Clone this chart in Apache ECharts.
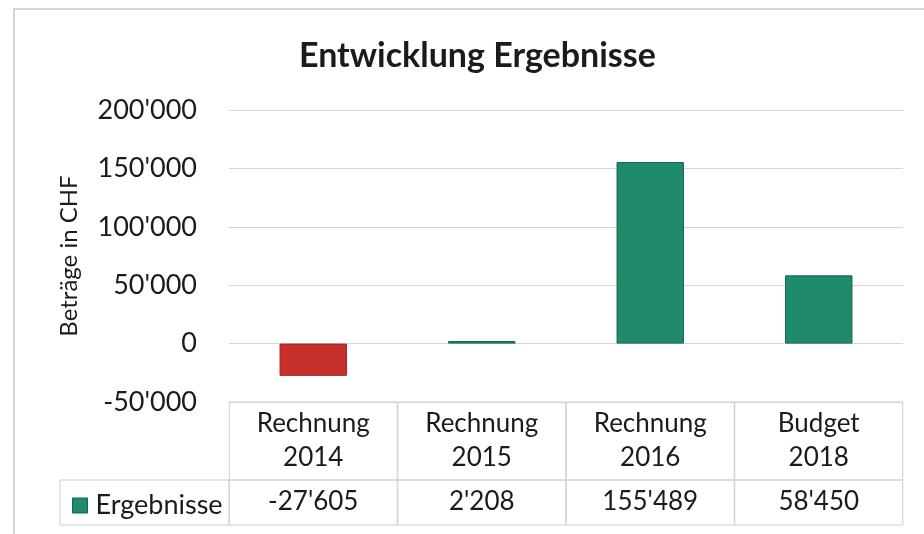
<!DOCTYPE html>
<html lang="de">
<head>
    <meta charset="UTF-8">
    <title>Entwicklung Ergebnisse</title>
    <style>
        html, body { margin: 0; padding: 0; background: #fff; }
        #main { width: 924px; height: 534px; }
    </style>
</head>
<body>
<div id="main"></div>
<script src="https://cdn.jsdelivr.net/npm/echarts@6/dist/echarts.min.js"></script>
<script>
    // Daten
    const categories = ['Rechnung\n2014', 'Rechnung\n2015', 'Rechnung\n2016', 'Budget\n2018'];
    const ergebnisse = [-27605, 2208, 155489, 58450];
    const seriesName = 'Ergebnisse';
    const yTicks = [-50000, 0, 50000, 100000, 150000, 200000];

    const FONT = 'Lato, "Open Sans", sans-serif';
    const TXT = '#1b1b1b';
    const LINE = '#cfcfd4';
    const GREEN = '#208a6c';
    const RED = '#c8302c';

    // Schweizer Tausendertrennzeichen
    function fmt(v) {
        const s = String(Math.abs(v)).replace(/\B(?=(\d{3})+(?!\d))/g, "'");
        return (v < 0 ? '-' : '') + s;
    }

    const myChart = echarts.init(document.getElementById('main'));

    const cellLabel = {
        margin: 0,
        interval: 0,
        fontFamily: FONT,
        fontSize: 26,
        color: TXT,
        lineHeight: 34,
        width: 168,
        align: 'center',
        borderColor: LINE,
        borderWidth: 1
    };

    const option = {
        animation: false,
        title: {
            text: 'Entwicklung Ergebnisse',
            left: 294,
            top: 34,
            textStyle: { fontFamily: FONT, fontSize: 34, fontWeight: 'bold', color: TXT }
        },
        legend: {
            data: [seriesName],
            left: 67,
            top: 487,
            itemWidth: 15,
            itemHeight: 15,
            icon: 'rect',
            itemStyle: { color: GREEN, borderColor: '#16654f', borderWidth: 1 },
            textStyle: { fontFamily: FONT, fontSize: 27, color: TXT, padding: [0, 0, 0, 3] }
        },
        grid: { left: 229, right: 21, top: 110, bottom: 132 },
        xAxis: [
            {
                type: 'category',
                data: categories,
                position: 'bottom',
                axisLine: { show: false },
                axisTick: { show: false },
                axisLabel: Object.assign({}, cellLabel, { padding: [5, 0, 5, 0] })
            },
            {
                type: 'category',
                data: categories,
                position: 'bottom',
                offset: 78,
                axisLine: { show: false },
                axisTick: { show: false },
                axisLabel: Object.assign({}, cellLabel, {
                    padding: [5, 0, 6, 0],
                    formatter: (v, i) => fmt(ergebnisse[i])
                })
            }
        ],
        yAxis: {
            type: 'value',
            min: yTicks[0],
            max: yTicks[yTicks.length - 1],
            interval: 50000,
            name: 'Beträge in CHF',
            nameLocation: 'middle',
            nameGap: 148,
            nameTextStyle: { fontFamily: FONT, fontSize: 24, color: TXT },
            axisLine: { show: false },
            axisTick: { show: false },
            axisLabel: {
                margin: 32,
                fontFamily: FONT,
                fontSize: 27,
                color: TXT,
                formatter: v => fmt(v)
            },
            splitLine: { lineStyle: { color: '#d6d6da', width: 1 } }
        },
        series: [{
            name: seriesName,
            type: 'bar',
            data: ergebnisse.map(v => ({
                value: v,
                itemStyle: v < 0
                    ? { color: RED, borderColor: '#a41e22' }
                    : { color: GREEN, borderColor: '#16654f' }
            })),
            barWidth: '40%',
            itemStyle: { color: GREEN, borderWidth: 1 }
        }],
        graphic: [
            // Rahmen des Diagramms (oben / links)
            {
                type: 'rect',
                shape: { x: 14, y: 9, width: 1000, height: 1000 },
                style: { fill: 'none', stroke: '#c8c8c8', lineWidth: 1.5 },
                silent: true
            },
            // Legendenzelle der Datentabelle
            {
                type: 'rect',
                shape: { x: 60, y: 480, width: 169, height: 45 },
                style: { fill: 'none', stroke: LINE, lineWidth: 1 },
                silent: true
            }
        ]
    };

    myChart.setOption(option);
</script>
</body>
</html>
